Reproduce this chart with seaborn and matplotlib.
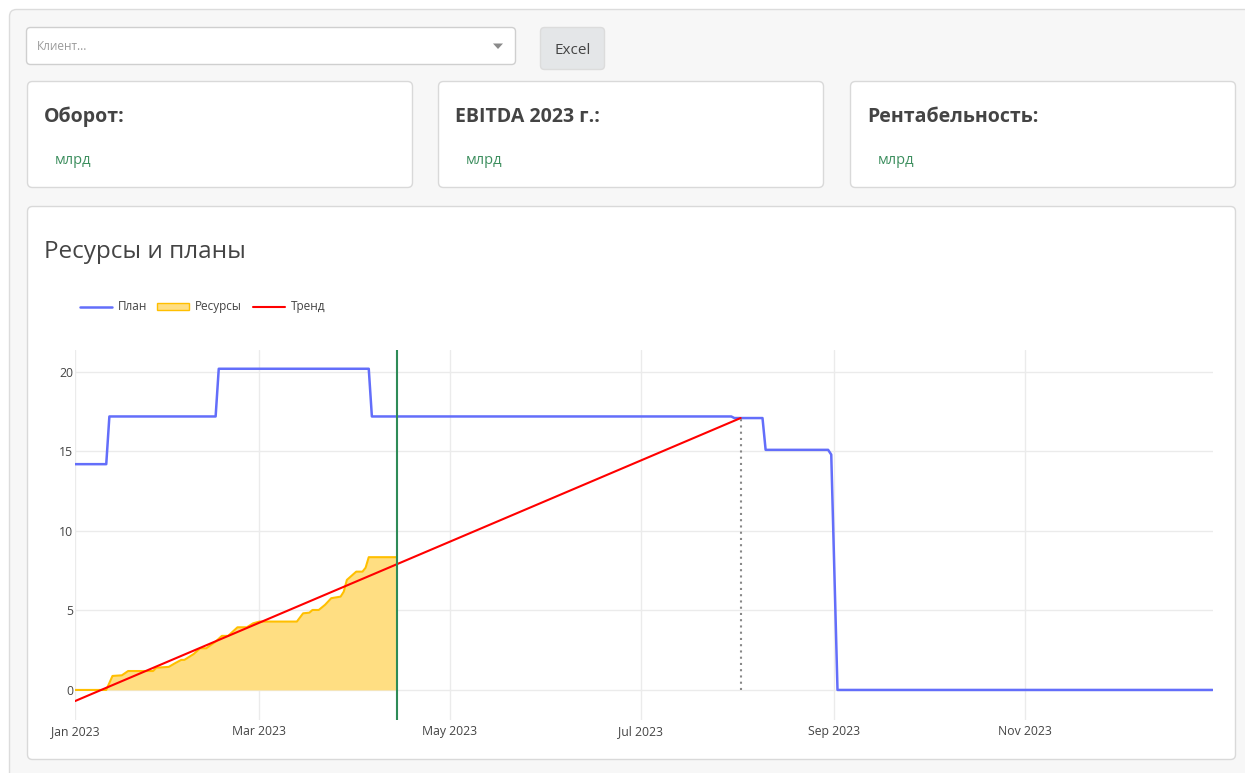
import pandas as pd
import numpy as np
import matplotlib
matplotlib.use('Agg')
import matplotlib.pyplot as plt
import matplotlib.dates as mdates
from matplotlib.patches import FancyBboxPatch, Polygon, Patch
from matplotlib.lines import Line2D
import seaborn as sns

# --- data ---
plan_dates = ['2023-01-01', '2023-01-11', '2023-01-12', '2023-02-15', '2023-02-16',
              '2023-04-05', '2023-04-06', '2023-07-30', '2023-07-31', '2023-08-09',
              '2023-08-10', '2023-08-30', '2023-08-31', '2023-09-02', '2023-12-31']
plan_values = [14.2, 14.2, 17.2, 17.2, 20.2,
               20.2, 17.2, 17.2, 17.1, 17.1,
               15.1, 15.1, 14.8, 0.0, 0.0]

res_dates = ['2023-01-01', '2023-01-11', '2023-01-13', '2023-01-16', '2023-01-18',
             '2023-01-26', '2023-01-27', '2023-01-31', '2023-02-02', '2023-02-04',
             '2023-02-05', '2023-02-08', '2023-02-10', '2023-02-12', '2023-02-15',
             '2023-02-17', '2023-02-19', '2023-02-22', '2023-02-25', '2023-02-27',
             '2023-03-01', '2023-03-13', '2023-03-15', '2023-03-17', '2023-03-18',
             '2023-03-20', '2023-03-22', '2023-03-24', '2023-03-27', '2023-03-28',
             '2023-03-29', '2023-04-01', '2023-04-03', '2023-04-04', '2023-04-05',
             '2023-04-14']
res_values = [0.0, 0.0, 0.88, 0.92, 1.19,
              1.19, 1.4, 1.45, 1.68, 1.89,
              1.89, 2.26, 2.62, 2.62, 3.04,
              3.4, 3.4, 3.94, 3.94, 4.19,
              4.3, 4.3, 4.82, 4.86, 5.03,
              5.03, 5.35, 5.77, 5.87, 6.18,
              6.92, 7.44, 7.44, 7.69, 8.35,
              8.35]

trend_dates = ['2023-01-01', '2023-08-02']
trend_values = [-0.7, 17.1]

today = '2023-04-14'
deadline = '2023-08-02'
deadline_value = 17.1

card_titles = ['Оборот:', 'EBITDA 2023 г.:', 'Рентабельность:']
card_units = ['млрд', 'млрд', 'млрд']

plan_df = pd.DataFrame({'date': pd.to_datetime(plan_dates), 'value': plan_values})
res_df = pd.DataFrame({'date': pd.to_datetime(res_dates), 'value': res_values})
trend_df = pd.DataFrame({'date': pd.to_datetime(trend_dates), 'value': trend_values})

sns.set_theme(style='white')
plt.rcParams['font.family'] = ['Open Sans', 'DejaVu Sans']

W, H = 1245, 773
fig = plt.figure(figsize=(W / 100, H / 100), dpi=100)
fig.patch.set_facecolor('white')

# page background drawn in pixel coordinates
bg = fig.add_axes([0, 0, 1, 1], zorder=0)
bg.set_xlim(0, W)
bg.set_ylim(H, 0)
bg.axis('off')


def box(x, y, w, h, fc, ec, r=5):
    bg.add_patch(FancyBboxPatch((x, y), w, h, boxstyle=f'round,pad=0,rounding_size={r}',
                                fc=fc, ec=ec, lw=1))


box(9.5, 9.5, 1300, 800, '#f7f7f7', '#dcdcdc', r=7)

# client dropdown + excel button
box(26.5, 27.5, 489, 37, 'white', '#cfcfcf', r=4)
bg.text(37, 46, 'Клиент...', fontsize=8.5, color='#9a9a9a', va='center')
bg.add_patch(Polygon([(493, 43.5), (503, 43.5), (498, 49)], closed=True, fc='#8a8a8a', ec='none'))
box(540.5, 27.5, 64, 42, '#e4e6e8', '#dcdcdc', r=4)
bg.text(573, 50, 'Excel', fontsize=11, color='#444444', ha='center', va='center')

# KPI cards
for x0, title, unit in zip([27, 438, 850], card_titles, card_units):
    box(x0 + 0.5, 81.5, 385, 106, 'white', '#d9d9d9', r=5)
    bg.text(x0 + 17, 117, title, fontsize=14, fontweight='bold', color='#444444', va='center')
    bg.text(x0 + 28, 161, unit, fontsize=10.5, color='#3d8f5f', va='center')

# chart card
box(27.5, 206.5, 1208, 553, 'white', '#d9d9d9', r=5)
bg.text(44, 252, 'Ресурсы и планы', fontsize=17.5, color='#444444', va='center')

# chart axes
px_left, px_right, px_top, px_bottom = 75, 1212.5, 350, 720
ax = fig.add_axes([px_left / W, 1 - px_bottom / H, (px_right - px_left) / W,
                   (px_bottom - px_top) / H], zorder=1)
ax.set_facecolor('none')

plan_color = '#636efa'
res_line = '#ffbf00'
res_fill = '#ffde82'

ax.fill_between(res_df['date'], res_df['value'], 0, color=res_fill, lw=0, zorder=2)
sns.lineplot(data=res_df, x='date', y='value', ax=ax, color=res_line, lw=1.5, zorder=3)
sns.lineplot(data=plan_df, x='date', y='value', ax=ax, color=plan_color, lw=1.8, zorder=4)
sns.lineplot(data=trend_df, x='date', y='value', ax=ax, color='#ff0000', lw=1.5, zorder=5)
ax.axvline(pd.Timestamp(today), color='#2e8b57', lw=1.5, zorder=6)
ax.plot([pd.Timestamp(deadline)] * 2, [0, deadline_value], color='#888888', lw=1.5,
        ls=(0, (1, 2)), zorder=6)

ax.set_xlim(pd.Timestamp('2023-01-01'), pd.Timestamp('2023-12-31'))
ax.set_ylim(-1.89, 21.38)
ax.set_yticks([0, 5, 10, 15, 20])
ax.xaxis.set_major_locator(mdates.MonthLocator(bymonth=[1, 3, 5, 7, 9, 11]))
ax.xaxis.set_major_formatter(mdates.DateFormatter('%b %Y'))
ax.grid(True, color='#ebebeb', lw=1)
ax.set_axisbelow(True)
for s in ax.spines.values():
    s.set_visible(False)
ax.tick_params(axis='both', length=0, labelsize=8.8, labelcolor='#444444')
ax.tick_params(axis='y', pad=1.5)
ax.tick_params(axis='x', pad=3.5)
ax.set_xlabel('')
ax.set_ylabel('')

handles = [Line2D([], [], color=plan_color, lw=1.8),
           Patch(facecolor=res_fill, edgecolor=res_line, lw=1),
           Line2D([], [], color='#ff0000', lw=1.5)]
fig.legend(handles, ['План', 'Ресурсы', 'Тренд'], loc='center left',
           bbox_to_anchor=(69 / W, 1 - 307 / H), ncol=3, frameon=False,
           fontsize=8.5, labelcolor='#444444', handlelength=2.7, handleheight=0.6,
           handletextpad=0.5, columnspacing=0.9)

plt.savefig('out.png', dpi=100)
